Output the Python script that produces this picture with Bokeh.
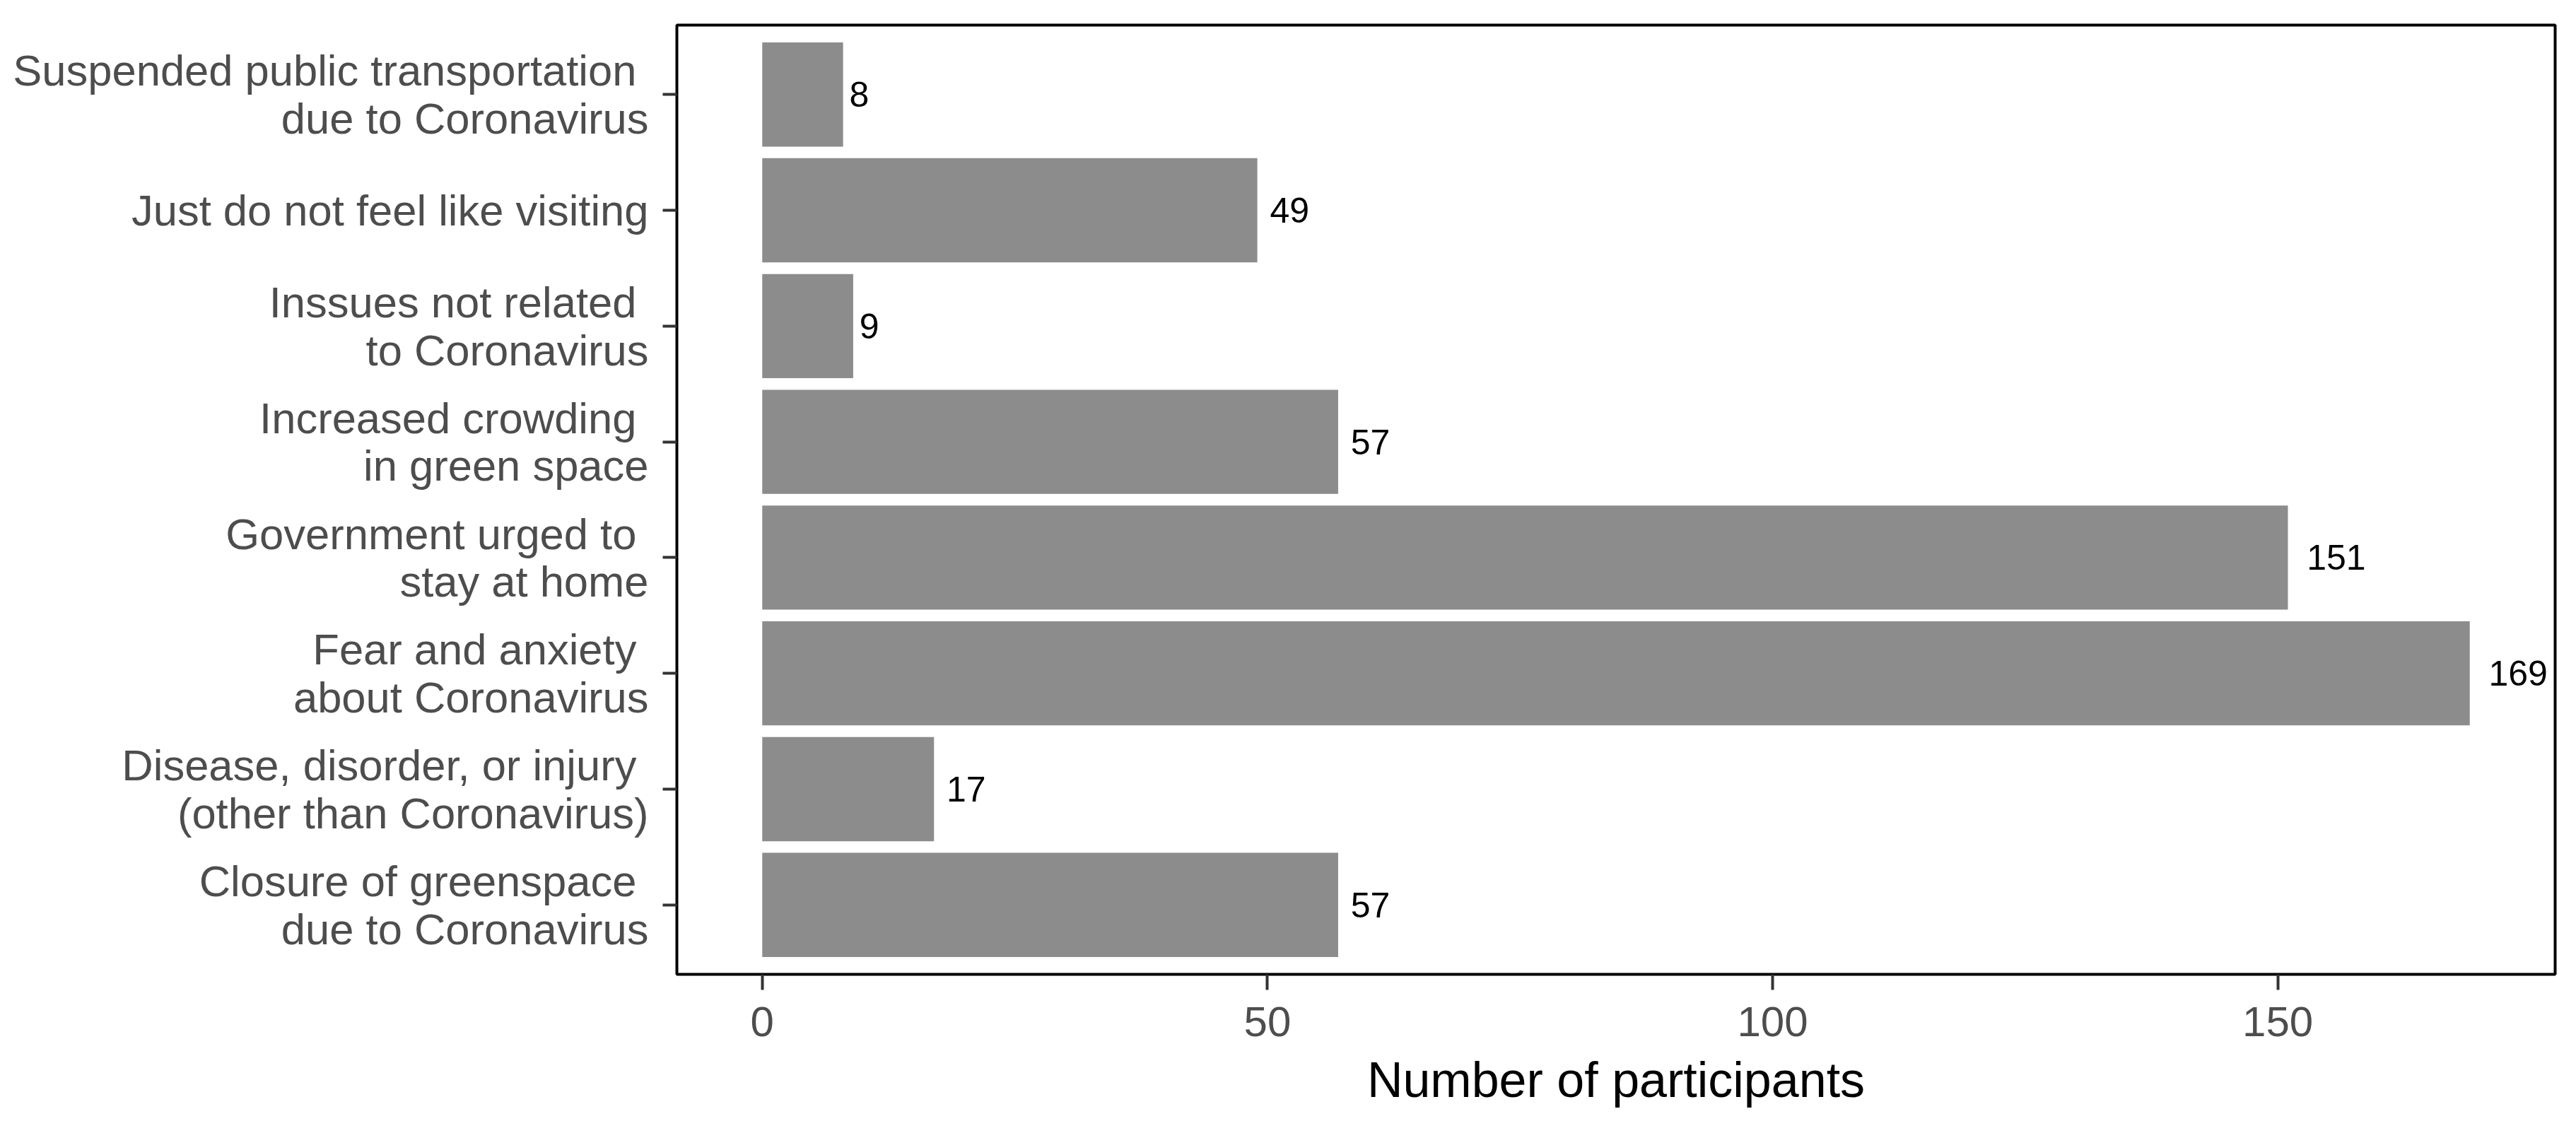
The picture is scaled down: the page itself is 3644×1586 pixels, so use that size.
from bokeh.plotting import figure
from bokeh.models import ColumnDataSource, Range1d, FixedTicker
from bokeh.core.properties import value
from bokeh.embed import file_html
from bokeh.resources import INLINE

# categories from bottom to top (label text, two lines where needed)
categories = [
    "Closure of greenspace\u00a0\ndue to Coronavirus",
    "Disease, disorder, or injury\u00a0\n(other than Coronavirus)",
    "Fear and anxiety\u00a0\nabout Coronavirus",
    "Government urged to\u00a0\nstay at home",
    "Increased crowding\u00a0\nin green space",
    "Inssues not related\u00a0\nto Coronavirus",
    "Just do not feel like visiting",
    "Suspended public transportation\u00a0\ndue to Coronavirus",
]
counts = [57, 17, 169, 151, 57, 9, 49, 8]
x_ticks = [0, 50, 100, 150]

FONT = "Liberation Sans"
LABEL_SIZE = 50

positions = list(range(1, len(categories) + 1))
labels = [str(c) for c in counts]
offsets = [0.32 * len(s) * 0.556 * LABEL_SIZE for s in labels]

source = ColumnDataSource(dict(y=positions, right=counts, label=labels, off=offsets))

frame_w, frame_h = 2657, 1343
left_b, top_b = 957, 35
W, H = 3628, 1570

p = figure(
    output_backend="svg", toolbar_location=None,
    width=W, height=H,
    frame_width=frame_w, frame_height=frame_h,
    min_border_left=left_b, min_border_top=top_b,
    min_border_right=W - left_b - frame_w, min_border_bottom=H - top_b - frame_h,
    x_range=Range1d(-8.45, 177.45), y_range=Range1d(0.4, 8.6),
)
p.background_fill_color = "white"
p.border_fill_color = "white"
p.outline_line_color = "black"
p.outline_line_width = 4
p.xgrid.visible = False
p.ygrid.visible = False

p.hbar(y="y", left=0, right="right", height=0.9, source=source,
       fill_color="#8C8C8C", line_color=None)

p.text(x="right", y="y", text="label", x_offset="off", source=source,
       text_font=value(FONT), text_font_size=f"{LABEL_SIZE}px",
       text_color="black", text_align="left", text_baseline="middle")

for ax in (p.xaxis[0], p.yaxis[0]):
    ax.axis_line_color = None
    ax.major_tick_line_color = "#333333"
    ax.major_tick_line_width = 4
    ax.major_tick_in = 0
    ax.minor_tick_line_color = None
    ax.major_label_text_font = FONT
    ax.major_label_text_color = "#4D4D4D"

p.xaxis.major_label_text_font_size = "60px"
p.yaxis.major_label_text_font_size = "61.5px"

p.xaxis.ticker = FixedTicker(ticks=x_ticks)
p.xaxis.major_tick_out = 22
p.xaxis.major_label_standoff = 24
p.xaxis.axis_label = "Number of participants"
p.xaxis.axis_label_text_font = FONT
p.xaxis.axis_label_text_font_size = "70px"
p.xaxis.axis_label_text_font_style = "normal"
p.xaxis.axis_label_text_color = "black"
p.xaxis.axis_label_standoff = 20

p.yaxis.ticker = FixedTicker(ticks=positions)
p.yaxis.major_label_overrides = {pos: cat for pos, cat in zip(positions, categories)}
p.yaxis.major_tick_out = 20
p.yaxis.major_label_standoff = 20
p.yaxis.major_label_text_line_height = 0.98

open("out.html", "w").write(file_html(p, INLINE))
